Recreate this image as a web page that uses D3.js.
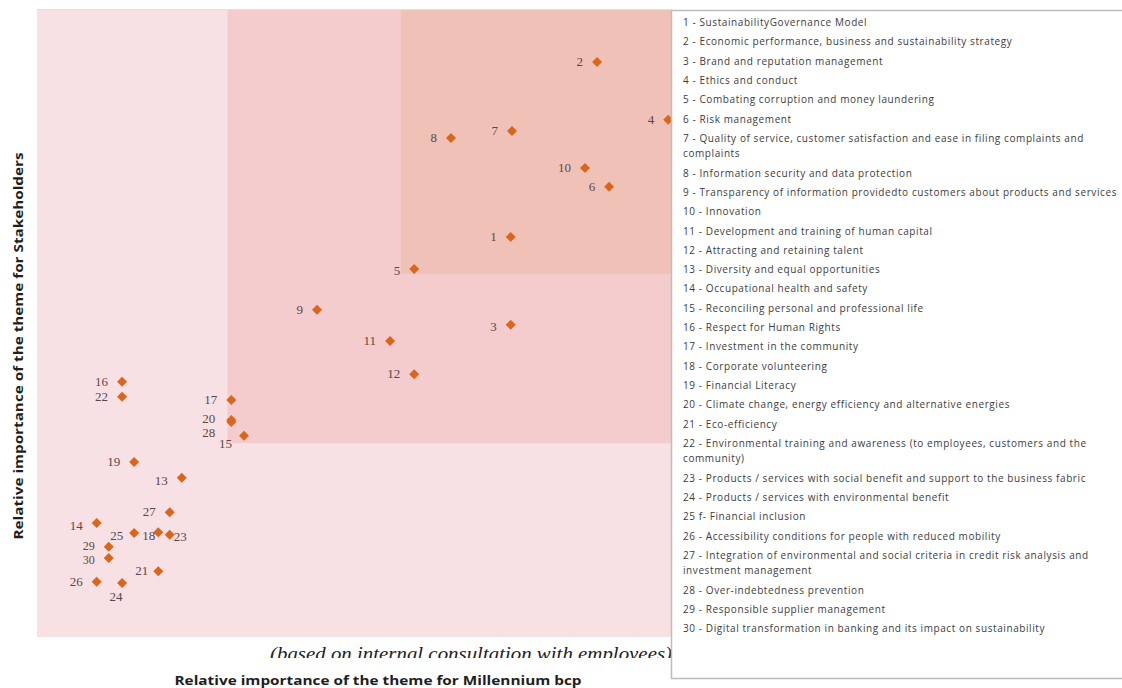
<!DOCTYPE html>
<html>
<head>
<meta charset="utf-8">
<script src="https://cdn.jsdelivr.net/npm/d3@7"></script>
<style>
  html, body { margin: 0; padding: 0; background: #ffffff; }
  svg { display: block; }
</style>
</head>
<body>
<svg id="chart" width="1122" height="688"></svg>
<script>
// ---------- DATA ----------
const themeIds = [1,2,3,4,5,6,7,8,9,10,11,12,13,14,15,16,17,18,19,20,21,22,23,24,25,26,27,28,29,30];
const themeNames = [
  "SustainabilityGovernance Model",
  "Economic performance, business and sustainability strategy",
  "Brand and reputation management",
  "Ethics and conduct",
  "Combating corruption and money laundering",
  "Risk management",
  "Quality of service, customer satisfaction and ease in filing complaints and complaints",
  "Information security and data protection",
  "Transparency of information providedto customers about products and services",
  "Innovation",
  "Development and training of human capital",
  "Attracting and retaining talent",
  "Diversity and equal opportunities",
  "Occupational health and safety",
  "Reconciling personal and professional life",
  "Respect for Human Rights",
  "Investment in the community",
  "Corporate volunteering",
  "Financial Literacy",
  "Climate change, energy efficiency  and alternative energies",
  "Eco-efficiency",
  "Environmental training and awareness (to employees, customers and the community)",
  "Products / services with social benefit and support to the business fabric",
  "Products / services with environmental benefit",
  "Financial inclusion",
  "Accessibility conditions for people with reduced mobility",
  "Integration of environmental and social criteria in credit risk analysis and investment management",
  "Over-indebtedness prevention",
  "Responsible supplier management",
  "Digital transformation in banking and its impact on sustainability"
];
const legendSeparators = ["-","-","-","-","-","-","-","-","-","-","-","-","-","-","-","-","-","-","-","-","-","-","-","-","f-","-","-","-","-","-"];
// importance for Millennium bcp (x) and for Stakeholders (y), 0–10 scale
const xMillennium = [7.46,8.82,7.46,9.94,5.94,9.01,7.48,6.52,4.41,8.63,5.56,5.94,2.28,0.94,3.26,1.34,3.06,1.91,1.53,3.06,1.91,1.34,2.09,1.34,1.53,0.94,2.09,3.06,1.13,1.13];
const yStakeholders = [6.38,9.17,4.98,8.25,5.87,7.18,8.07,7.96,5.22,7.48,4.72,4.19,2.54,1.82,3.21,4.07,3.78,1.67,2.79,3.46,1.05,3.83,1.63,0.86,1.66,0.88,1.99,3.43,1.44,1.26];
const zoneBreaksX = [3.0, 5.73];
const zoneBreaksY = [3.09, 5.79];
const xAxisTitle = "Relative importance of the theme for Millennium bcp";
const yAxisTitle = "Relative importance of the theme for Stakeholders";
const noteText = "(based on internal consultation with employees)";

// ---------- LAYOUT / STYLE ----------
const svg = d3.select("#chart");
const plot = { left: 37, right: 672, top: 10, bottom: 637 };
const x = d3.scaleLinear().domain([0, 10]).range([plot.left, plot.left + 635]);
const y = d3.scaleLinear().domain([0, 10]).range([plot.bottom, plot.bottom - 627]);

const zoneColors = ["#f8e1e4", "#f5cccd", "#f0c2b7"];
const pointColor = "#d9661c";
const labelColor = "#5b4747";

// label placement tweaks (style, not data)
const labelPlace = {
  3: {dy: 6}, 5: {dy: 6}, 13: {dy: 7}, 14: {dy: 7},
  15: {dx: -12, dy: 12},
  18: {dx: -3, dy: 8},
  20: {dx: -16, dy: 3},
  21: {dx: -10},
  23: {dx: 4, anchor: "start", dy: 6},
  24: {dx: -6, dy: 18, anchor: "middle"},
  25: {dx: -11, dy: 7},
  28: {dx: -16, dy: 15},
  29: {dy: 3}, 30: {dy: 6}
};

const points = themeIds.map((id, i) => ({ id, xv: xMillennium[i], yv: yStakeholders[i] }));

// zones
const zones = [
  { x0: 0, y0: 0 },
  { x0: zoneBreaksX[0], y0: zoneBreaksY[0] },
  { x0: zoneBreaksX[1], y0: zoneBreaksY[1] }
];
svg.append("g").selectAll("rect").data(zones).join("rect")
  .attr("x", d => x(d.x0))
  .attr("y", plot.top)
  .attr("width", d => plot.right - x(d.x0))
  .attr("height", d => y(d.y0) - plot.top)
  .attr("fill", (d, i) => zoneColors[i]);

// top faint line
svg.append("line").attr("x1", plot.left).attr("x2", 672).attr("y1", 9.5).attr("y2", 9.5)
  .attr("stroke", "#e6e0e0").attr("stroke-width", 1);

// points
const diamond = "M0,-5L5,0L0,5L-5,0Z";
const ptG = svg.append("g");
ptG.selectAll("path").data(points).join("path")
  .attr("d", diamond)
  .attr("transform", d => `translate(${x(d.xv)},${y(d.yv)})`)
  .attr("fill", pointColor);

ptG.selectAll("text").data(points).join("text")
  .attr("x", d => x(d.xv) + ((labelPlace[d.id] && labelPlace[d.id].dx !== undefined) ? labelPlace[d.id].dx : -14))
  .attr("y", d => y(d.yv) + ((labelPlace[d.id] && labelPlace[d.id].dy !== undefined) ? labelPlace[d.id].dy : 4))
  .attr("text-anchor", d => (labelPlace[d.id] && labelPlace[d.id].anchor) || "end")
  .attr("font-family", "'Liberation Serif', 'DejaVu Serif', serif")
  .attr("font-size", d => (d.id === 29 || d.id === 30) ? 12 : 13)
  .attr("fill", labelColor)
  .text(d => d.id);

// note (clipped at bottom as in the original)
svg.append("defs").append("clipPath").attr("id", "noteClip")
  .append("rect").attr("x", 200).attr("y", 638).attr("width", 500).attr("height", 20);
svg.append("text")
  .attr("clip-path", "url(#noteClip)")
  .attr("x", 672).attr("y", 660)
  .attr("text-anchor", "end")
  .attr("font-family", "'Liberation Serif', serif")
  .attr("font-style", "italic")
  .attr("font-size", 19.5)
  .attr("fill", "#222")
  .attr("textLength", 402).attr("lengthAdjust", "spacingAndGlyphs")
  .text(noteText);

// axis titles
svg.append("text")
  .attr("x", 378).attr("y", 685)
  .attr("text-anchor", "middle")
  .attr("font-family", "'Open Sans', 'Noto Sans', sans-serif")
  .attr("font-weight", "bold")
  .attr("font-size", 13)
  .attr("fill", "#1e1e1e")
  .attr("textLength", 407).attr("lengthAdjust", "spacingAndGlyphs")
  .text(xAxisTitle);

svg.append("text")
  .attr("transform", "translate(23,346) rotate(-90)")
  .attr("text-anchor", "middle")
  .attr("font-family", "'Open Sans', 'Noto Sans', sans-serif")
  .attr("font-weight", "bold")
  .attr("font-size", 13)
  .attr("fill", "#1e1e1e")
  .attr("textLength", 387).attr("lengthAdjust", "spacingAndGlyphs")
  .text(yAxisTitle);

// legend box (open on the right, like the cropped original)
const lg = svg.append("g");
lg.append("rect")
  .attr("x", 671.5).attr("y", 10).attr("width", 452).attr("height", 669)
  .attr("fill", "#ffffff");
lg.append("path")
  .attr("d", "M1122,10.5H671.5V678.5H1122")
  .attr("fill", "none").attr("stroke", "#bdbdbd").attr("stroke-width", 1.5);

const legendX = 683;
const maxW = 440;
const legendFont = { family: "'Open Sans', 'Liberation Sans', sans-serif", size: 10 };
// fit letter-spacing so the longest single-line item spans like the original (~434px)
const probe = lg.append("text")
  .attr("font-family", legendFont.family).attr("font-size", legendFont.size)
  .text(`9 - ${themeNames[8]}`);
const probeLen = probe.node().getComputedTextLength();
const probeChars = `9 - ${themeNames[8]}`.length;
probe.remove();
const ls = (434 - probeLen) / probeChars;

let cy = 26;
const itemGap = 19.3, wrapGap = 15.5;
themeIds.forEach((id, i) => {
  const full = `${id} ${legendSeparators[i]} ${themeNames[i]}`;
  const t = lg.append("text")
    .attr("x", legendX).attr("y", cy)
    .attr("font-family", legendFont.family)
    .attr("font-size", legendFont.size)
    .attr("letter-spacing", ls)
    .attr("fill", "#3c3c3c");
  const words = full.split(" ");
  let line = [];
  let tspan = t.append("tspan").attr("x", legendX).attr("y", cy);
  let lines = 1;
  words.forEach(w => {
    line.push(w);
    tspan.text(line.join(" "));
    if (tspan.node().getComputedTextLength() > maxW && line.length > 1) {
      line.pop();
      tspan.text(line.join(" "));
      line = [w];
      tspan = t.append("tspan").attr("x", legendX).attr("y", cy + wrapGap * lines).text(w);
      lines++;
    }
  });
  cy += itemGap + wrapGap * (lines - 1);
});
</script>
</body>
</html>
